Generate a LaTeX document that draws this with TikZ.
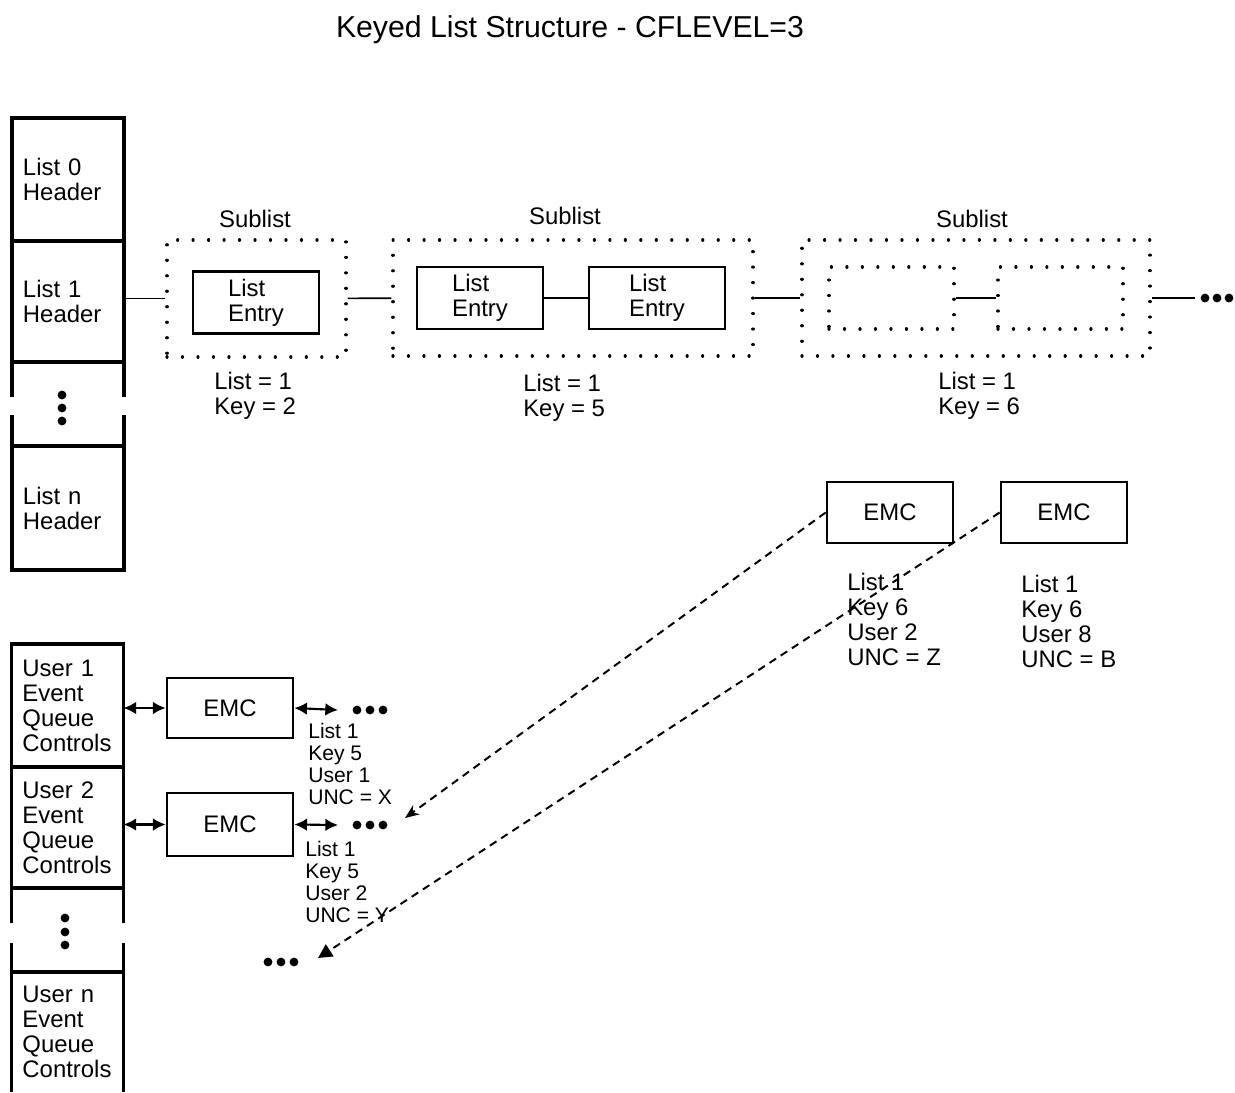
\documentclass[tikz,border=0pt]{standalone}
\usepackage{fontspec}
\setmainfont{Liberation Sans}
\usetikzlibrary{arrows.meta}
\newcommand\mainsz{\fontsize{17}{17.8}\selectfont}
\newcommand\smallsz{\fontsize{15}{15.6}\selectfont}

\begin{document}
\begin{tikzpicture}[x=0.025cm,y=-0.025cm,
  hdr/.style={draw,line width=2.2pt,outer sep=0pt,inner ysep=0pt,inner xsep=0.275cm,text width=2.25cm,align=left,minimum width=2.8cm,font=\mainsz},
  wall/.style={line width=2.2pt},
  entry/.style={draw,line width=1.8pt,inner sep=0pt,align=left,minimum width=3.15cm,minimum height=1.55cm,font=\mainsz},
  sub/.style={draw,line width=2.3pt,line cap=round,dash pattern=on 0.01pt off 11pt,inner sep=0pt},
  emc/.style={draw,line width=1.9pt,inner sep=0pt,minimum width=3.15cm,minimum height=1.525cm,font=\mainsz},
  lbl/.style={inner sep=0pt,align=left,anchor=west,font=\mainsz},
  small/.style={inner sep=0pt,align=left,anchor=west,font=\smallsz},
  link/.style={line width=1.2pt},
  both/.style={line width=1.5pt,{Latex[length=9pt,width=9pt]}-{Latex[length=9pt,width=9pt]}},
  ptr/.style={line width=1.4pt,dash pattern=on 5.5pt off 4pt}
]
\useasboundingbox (0,0) rectangle (1235,1092);

\node[font=\fontsize{21.5}{25}\selectfont] (title) at (570,30) {Keyed List Structure - CFLEVEL=3};

\node[hdr,minimum height=3.075cm] (l0) at (68,179.5) {List 0\\Header};
\node[hdr,minimum height=3.025cm] (l1) at (68,301.5) {List 1\\Header};
\node[hdr,minimum height=3.1cm] (ln) at (68,508) {List n\\Header};
\draw[wall] (l1.south west) -- ++(0,35) (l1.south east) -- ++(0,35)
  (ln.north west) -- ++(0,-31) (ln.north east) -- ++(0,-31);
\foreach \y in {395,408,421} \fill (62,\y) circle (0.11cm);

\node[font=\mainsz] (s1) at (255,219) {Sublist};
\node[font=\mainsz] (s2) at (565,216) {Sublist};
\node[font=\mainsz] (s3) at (972,219) {Sublist};

\node[sub,minimum width=4.475cm,minimum height=2.925cm] (sub1) at (256.5,298.5) {};
\node[entry] (e1) at (256,302.5) {List\\Entry};
\node[sub,minimum width=9cm,minimum height=2.9cm] (sub2) at (573,298) {};
\node[entry] (e2) at (480,298) {List\\Entry};
\node[entry,minimum width=3.4cm] (e3) at (657,298) {List\\Entry};
\node[sub,minimum width=8.7cm,minimum height=2.9cm] (sub3) at (976,298) {};
\node[sub,minimum width=3.125cm,minimum height=1.55cm] (g1) at (891.5,298) {};
\node[sub,minimum width=3.125cm,minimum height=1.55cm] (g2) at (1060.5,298) {};
\coordinate (more) at (1195,298);

\draw[link] (sub1.west -| l1.east) -- (sub1.west);
\draw[link] (sub1) -- (sub2);
\draw[link] (e2) -- (e3);
\draw[link] (sub2) -- (sub3);
\draw[link] (g1) -- (g2);
\draw[link] (sub3) -- (more);
\foreach \x in {1205,1217,1229} \fill (\x,298) circle (0.11cm);

\node[lbl] (k1) at (214,396) {List = 1\\Key = 2};
\node[lbl] (k2) at (523,398) {List = 1\\Key = 5};
\node[lbl] (k3) at (938,396) {List = 1\\Key = 6};

\node[emc] (m1) at (890,512.5) {EMC};
\node[emc] (m2) at (1064,512.5) {EMC};
\node[lbl] (m1lbl) at (847,619) {List 1\\Key 6\\User 2\\UNC = Z};
\node[lbl] (m2lbl) at (1021,621) {List 1\\Key 6\\User 8\\UNC = B};

\node[hdr,minimum height=3.075cm] (u1) at (67.5,705.5) {User 1\\Event\\Queue\\Controls};
\node[hdr,minimum height=3.025cm] (u2) at (67.5,827.5) {User 2\\Event\\Queue\\Controls};
\node[hdr,draw=none,minimum height=3cm] (un) at (67.5,1032) {User n\\Event\\Queue\\Controls};
\draw[wall] (u2.south west) -- ++(0,35) (u2.south east) -- ++(0,35)
  (un.north west) -- ++(0,-29) (un.north east) -- ++(0,-29);
\draw[wall] (un.south west) -- (un.north west) -- (un.north east) -- (un.south east);
\foreach \y in {918,932,945} \fill (65,\y) circle (0.11cm);

\node[emc,minimum height=1.5cm] (a1) at (230,708) {EMC};
\node[emc,minimum height=1.575cm] (a2) at (230,824.5) {EMC};
\coordinate (a1more) at (338,710);
\coordinate (a2more) at (338,825);
\draw[both] (a1.west -| u1.east) -- (a1.west);
\draw[both] (a2.west -| u2.east) -- (a2.west);
\draw[both] (a1.east) -- (a1more);
\draw[both] (a2.east) -- (a2more);
\foreach \x in {357,370,383} \fill (\x,710) circle (0.11cm) (\x,825) circle (0.11cm);
\node[small] (a1lbl) at (308,764) {List 1\\Key 5\\User 1\\UNC = X};
\node[small] (a2lbl) at (305,882) {List 1\\Key 5\\User 2\\UNC = Y};

\coordinate (tip1) at (405,818);
\coordinate (tip2) at (318,958);
\draw[ptr,-{Stealth[length=10pt,width=8pt]}] (m1.west) -- (tip1);
\draw[ptr,-{Triangle[length=10pt,width=10pt]}] (m2.west) -- (tip2);
\foreach \x in {268,281,294} \fill (\x,962) circle (0.11cm);
\end{tikzpicture}
\end{document}
